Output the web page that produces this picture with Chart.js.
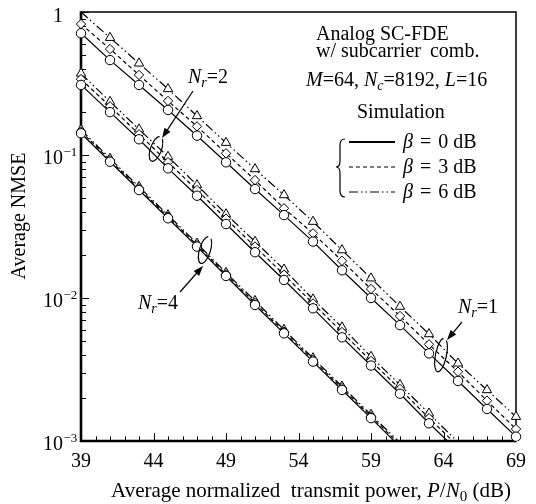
<!DOCTYPE html>
<html>
<head>
<meta charset="utf-8">
<script src="https://cdn.jsdelivr.net/npm/chart.js@4/dist/chart.umd.min.js"></script>
<style>
  html, body { margin:0; padding:0; background:#fff; }
  #wrap { width:536px; height:504px; position:relative; }
</style>
</head>
<body>
<div id="wrap"><canvas id="chNmse"></canvas></div>
<script>
// P/N0 in dB where each curve was sampled
const snrNr1 = [39, 41, 43, 45, 47, 49, 51, 53, 55, 57, 59, 61, 63, 65, 67, 69];
const snrNr2 = [39, 41, 43, 45, 47, 49, 51, 53, 55, 57, 59, 61, 63, 65];
const snrNr4 = [39, 41, 43, 45, 47, 49, 51, 53, 55, 57, 59, 61];

// average NMSE (beta = 0 / 3 / 6 dB)
const nmseNr1B0 = [0.710, 0.461, 0.309, 0.2065, 0.1365, 0.0889, 0.0578, 0.0380, 0.0248, 0.01563, 0.0100, 0.00646, 0.00410, 0.00263, 0.001675, 0.001072];
const nmseNr1B3 = [0.824, 0.551, 0.363, 0.2388, 0.1585, 0.1028, 0.0668, 0.0424, 0.0283, 0.0182, 0.01156, 0.00748, 0.00474, 0.00305, 0.001914, 0.001213];
const nmseNr1B6 = [1.0, 0.661, 0.4375, 0.2897, 0.1875, 0.1219, 0.0798, 0.0525, 0.0342, 0.02163, 0.01374, 0.00871, 0.0056, 0.00349, 0.002275, 0.001479];
const nmseNr2B0 = [0.309, 0.1995, 0.1288, 0.0807, 0.0519, 0.0329, 0.0209, 0.01337, 0.00847, 0.00531, 0.00337, 0.00214, 0.00133, 0.000851];
const nmseNr2B3 = [0.339, 0.219, 0.1396, 0.0891, 0.0569, 0.0359, 0.0229, 0.01456, 0.00916, 0.00578, 0.00363, 0.00231, 0.001445, 0.000923];
const nmseNr2B6 = [0.3715, 0.236, 0.1514, 0.0973, 0.0617, 0.0386, 0.0248, 0.01585, 0.0098, 0.00624, 0.00389, 0.00247, 0.00156, 0.00098];
const nmseNr4B0 = [0.1419, 0.0897, 0.0569, 0.0361, 0.02286, 0.01426, 0.00893, 0.00566, 0.00359, 0.002275, 0.001445, 0.000912];
const nmseNr4B3 = [0.1461, 0.0921, 0.0585, 0.0370, 0.02344, 0.01462, 0.00923, 0.00582, 0.00369, 0.002344, 0.001486, 0.000942];
const nmseNr4B6 = [0.1503, 0.0944, 0.0600, 0.0380, 0.0241, 0.01503, 0.00955, 0.0060, 0.0038, 0.00241, 0.00153, 0.000973];

const betaValues = [0, 3, 6];
const xTicks = [39, 44, 49, 54, 59, 64, 69];
const yTicks = [1e-3, 1e-2, 1e-1, 1];
const yTickLabels = [['10', '\u22123'], ['10', '\u22122'], ['10', '\u22121'], ['1', '']];

const SERIF = '"Liberation Serif", "Times New Roman", serif';
const FS = 20;

// one line style + marker per beta
const betaStyle = [
  { dash: [],                     marker: 'circle',  r: 4.7 },
  { dash: [4, 3],                 marker: 'rectRot', r: 4.7 },
  { dash: [9, 3, 1.5, 3, 1.5, 3], marker: 'triangle', r: 5.4 },
];

function series(snr, vals, b){
  const st = betaStyle[b];
  return {
    data: snr.map((x, i) => ({ x, y: vals[i] })),
    borderColor: '#000', borderWidth: 1.2, borderDash: st.dash,
    pointStyle: st.marker,
    pointRadius: c => { const v = c.raw ? c.raw.y : 0; return (v >= 1 || v < 1e-3) ? 0 : st.r; },
    pointBackgroundColor: '#fff', pointBorderColor: '#000', pointBorderWidth: 1,
    tension: 0, fill: false,
    clip: { left: 8, top: 0, right: 8, bottom: 0 },
  };
}

// draws mixed italic / sub / superscript runs
function rich(ctx, parts, x, y, align){
  const fontOf = p => `${p.it ? 'italic ' : ''}${p.size || FS}px ${SERIF}`;
  let w = 0;
  parts.forEach(p => { ctx.font = fontOf(p); w += ctx.measureText(p.t).width + (p.kern || 0); });
  let cx = align === 'center' ? x - w / 2 : align === 'right' ? x - w : x;
  ctx.textAlign = 'left';
  ctx.textBaseline = 'alphabetic';
  parts.forEach(p => {
    ctx.font = fontOf(p);
    ctx.fillText(p.t, cx, y + (p.dy || 0));
    cx += ctx.measureText(p.t).width + (p.kern || 0);
  });
}

function arrow(ctx, x1, y1, x2, y2){
  const ang = Math.atan2(y2 - y1, x2 - x1), len = 10, hw = 3.6;
  ctx.beginPath(); ctx.moveTo(x1, y1); ctx.lineTo(x2 - Math.cos(ang) * len * 0.8, y2 - Math.sin(ang) * len * 0.8); ctx.stroke();
  ctx.beginPath();
  ctx.moveTo(x2, y2);
  ctx.lineTo(x2 - Math.cos(ang) * len - Math.sin(ang) * hw, y2 - Math.sin(ang) * len + Math.cos(ang) * hw);
  ctx.lineTo(x2 - Math.cos(ang) * len + Math.sin(ang) * hw, y2 - Math.sin(ang) * len - Math.cos(ang) * hw);
  ctx.closePath(); ctx.fill();
}

function loop(ctx, cx, cy, rx, ry, rot){
  ctx.beginPath();
  ctx.ellipse(cx, cy, rx, ry, rot, -0.35 * Math.PI, 1.45 * Math.PI);
  ctx.stroke();
}

const figureDecor = {
  id: 'figureDecor',
  beforeDatasetsDraw(chart){
    const { ctx, chartArea: a, scales: { x, y } } = chart;
    ctx.save();
    ctx.strokeStyle = '#000';
    ctx.lineWidth = 1;
    // x ticks, inward: major every 5 dB, minor every 1 dB
    for (let v = xTicks[0]; v <= xTicks[xTicks.length - 1]; v++) {
      const px = Math.round(x.getPixelForValue(v)) + 0.5;
      const len = xTicks.includes(v) ? 8 : 4.5;
      ctx.beginPath(); ctx.moveTo(px, a.bottom); ctx.lineTo(px, a.bottom - len); ctx.stroke();
    }
    // y ticks, inward, log minors
    yTicks.forEach((d, i) => {
      const py = Math.round(y.getPixelForValue(d)) + 0.5;
      ctx.beginPath(); ctx.moveTo(a.left, py); ctx.lineTo(a.left + 8, py); ctx.stroke();
      if (i < yTicks.length - 1) {
        for (let m = 2; m <= 9; m++) {
          const pm = Math.round(y.getPixelForValue(m * d)) + 0.5;
          ctx.beginPath(); ctx.moveTo(a.left, pm); ctx.lineTo(a.left + 5, pm); ctx.stroke();
        }
      }
    });
    // frame: thin top/right, heavy left/bottom
    ctx.lineWidth = 1.5;
    ctx.beginPath(); ctx.moveTo(a.left, a.top); ctx.lineTo(a.right, a.top); ctx.lineTo(a.right, a.bottom); ctx.stroke();
    ctx.lineWidth = 2.6;
    ctx.beginPath(); ctx.moveTo(a.left, a.top - 0.8); ctx.lineTo(a.left, a.bottom); ctx.lineTo(a.right + 0.8, a.bottom); ctx.stroke();
    ctx.restore();
  },
  afterDraw(chart){
    const { ctx, chartArea: a, scales: { y } } = chart;
    ctx.save();
    ctx.fillStyle = '#000';
    ctx.strokeStyle = '#000';

    // y tick labels with superscript exponents
    yTicks.forEach((d, i) => {
      const py = y.getPixelForValue(d);
      const [base, sup] = yTickLabels[i];
      const by = i === yTicks.length - 1 ? py + 10 : py + 8.5;
      ctx.font = `${FS}px ${SERIF}`; ctx.textAlign = 'right'; ctx.textBaseline = 'alphabetic';
      ctx.fillText(base, 63, by);
      if (sup) { ctx.font = `13px ${SERIF}`; ctx.textAlign = 'left'; ctx.fillText(sup, 63.5, by - 7.5); }
    });

    // axis titles
    ctx.save();
    ctx.translate(25, 216);
    ctx.rotate(-Math.PI / 2);
    ctx.font = `${FS}px ${SERIF}`; ctx.textAlign = 'center'; ctx.textBaseline = 'alphabetic';
    ctx.fillText('Average NMSE', 0, 0);
    ctx.restore();
    rich(ctx, [
      { t: 'Average normalized  transmit power, ', size: 21 },
      { t: 'P', it: true, size: 21 }, { t: '/', size: 21 }, { t: 'N', it: true, size: 21 },
      { t: '0', size: 15, dy: 4 }, { t: ' (dB)', size: 21 },
    ], 311, 497, 'center');

    // setup text block
    rich(ctx, [{ t: 'Analog SC-FDE' }], 316, 40);
    rich(ctx, [{ t: 'w/ subcarrier', kern: 4 }, { t: ' comb.' }], 316, 57);
    rich(ctx, [
      { t: 'M', it: true }, { t: '=64, ' }, { t: 'N', it: true }, { t: 'c', it: true, size: 14, dy: 4 },
      { t: '=8192, ' }, { t: 'L', it: true }, { t: '=16' },
    ], 306, 86);
    rich(ctx, [{ t: 'Simulation' }], 357, 118);

    // legend with brace
    const legY = [142, 167, 192];
    ctx.lineWidth = 1.2;
    ctx.beginPath();
    ctx.moveTo(345, 139); ctx.quadraticCurveTo(340, 139, 340, 145);
    ctx.lineTo(340, 161); ctx.quadraticCurveTo(340, 167, 336, 167);
    ctx.quadraticCurveTo(340, 167, 340, 173);
    ctx.lineTo(340, 191); ctx.quadraticCurveTo(340, 197, 345, 197);
    ctx.stroke();
    betaValues.forEach((b, i) => {
      ctx.save();
      ctx.lineWidth = i === 0 ? 2 : 1.2;
      ctx.setLineDash(betaStyle[i].dash);
      ctx.beginPath(); ctx.moveTo(349, legY[i]); ctx.lineTo(395, legY[i]); ctx.stroke();
      ctx.restore();
      rich(ctx, [{ t: '\u03b2', it: true, kern: 2 }, { t: ' = ', kern: 2 }, { t: b + ' dB' }], 403, legY[i] + 6);
    });

    // N_r callouts
    ctx.lineWidth = 1.2;
    rich(ctx, [{ t: 'N', it: true }, { t: 'r', it: true, size: 14, dy: 4 }, { t: '=2' }], 188, 83);
    arrow(ctx, 193, 91, 162, 138);
    loop(ctx, 156, 149, 5.5, 13, 0.35);

    rich(ctx, [{ t: 'N', it: true }, { t: 'r', it: true, size: 14, dy: 4 }, { t: '=1' }], 458, 313);
    arrow(ctx, 462, 322, 447, 340);
    loop(ctx, 441, 355, 5.5, 17, 0.2);

    rich(ctx, [{ t: 'N', it: true }, { t: 'r', it: true, size: 14, dy: 4 }, { t: '=4' }], 138, 309);
    arrow(ctx, 180, 292, 203, 266);
    loop(ctx, 205, 250, 5.5, 14, 0.3);

    ctx.restore();
  }
};

const datasets = [
  series(snrNr1, nmseNr1B0, 0), series(snrNr1, nmseNr1B3, 1), series(snrNr1, nmseNr1B6, 2),
  series(snrNr2, nmseNr2B0, 0), series(snrNr2, nmseNr2B3, 1), series(snrNr2, nmseNr2B6, 2),
  series(snrNr4, nmseNr4B0, 0), series(snrNr4, nmseNr4B3, 1), series(snrNr4, nmseNr4B6, 2),
];

new Chart(document.getElementById('chNmse'), {
  type: 'line',
  data: { datasets },
  options: {
    responsive: true, maintainAspectRatio: false, animation: false,
    layout: { padding: { left: 0, top: 12, right: 20, bottom: 0 } },
    plugins: { legend: { display: false }, tooltip: { enabled: false } },
    scales: {
      x: {
        type: 'linear', min: 39, max: 69,
        afterBuildTicks: s => { s.ticks = xTicks.map(v => ({ value: v })); },
        afterFit: s => { s.height = 63; },
        grid: { display: false, drawTicks: false }, border: { display: false },
        ticks: { color: '#000', font: { family: SERIF, size: FS }, padding: 9, maxRotation: 0, autoSkip: false },
      },
      y: {
        type: 'logarithmic', min: 1e-3, max: 1,
        afterBuildTicks: s => { s.ticks = yTicks.map(v => ({ value: v })); },
        afterFit: s => { s.width = 81; },
        grid: { display: false, drawTicks: false }, border: { display: false },
        ticks: { display: false },
      },
    },
  },
  plugins: [figureDecor],
});
</script>
</body>
</html>
